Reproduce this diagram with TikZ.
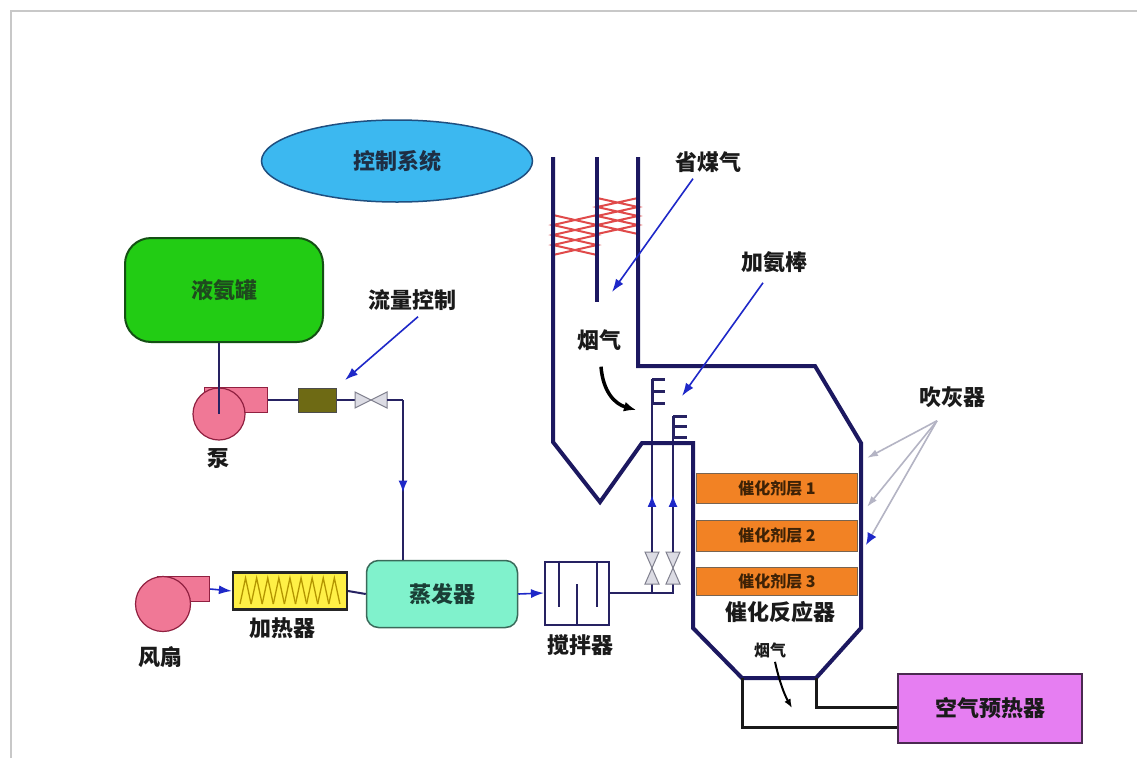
\documentclass[tikz,border=0pt]{standalone}
\usepackage{fontspec}
\newfontfamily\cjk{Noto Sans CJK SC}
\usetikzlibrary{shapes.geometric,arrows.meta,decorations.markings,calc}

\definecolor{ductc}{HTML}{1C1860}
\definecolor{pipec}{HTML}{262262}
\definecolor{arrowc}{HTML}{1E28C8}
\definecolor{ellfill}{HTML}{3CB8F0}
\definecolor{ellline}{HTML}{1F4F80}
\definecolor{elltext}{HTML}{1E2E44}
\definecolor{tankfill}{HTML}{22CC14}
\definecolor{tankline}{HTML}{145014}
\definecolor{tanktext}{HTML}{1E4A1E}
\definecolor{pumpfill}{HTML}{F07896}
\definecolor{pumpline}{HTML}{902040}
\definecolor{boxolive}{HTML}{6E6A14}
\definecolor{heatfill}{HTML}{FFF046}
\definecolor{heatzig}{HTML}{B49600}
\definecolor{evapfill}{HTML}{80F2CC}
\definecolor{evapline}{HTML}{3A6A5A}
\definecolor{evaptext}{HTML}{1A3E36}
\definecolor{catfill}{HTML}{F28224}
\definecolor{cattext}{HTML}{3E2206}
\definecolor{aphfill}{HTML}{E67EF2}
\definecolor{aphline}{HTML}{4A2A50}
\definecolor{coilc}{HTML}{E04A4A}
\definecolor{framec}{HTML}{C8C8C8}
\definecolor{sootc}{HTML}{B4B4C4}
\definecolor{valvefill}{HTML}{DCDCE4}
\definecolor{valveline}{HTML}{80808E}
\definecolor{labeltext}{HTML}{1A1A1A}

\tikzset{
  lbl/.style={font=\cjk\bfseries\fontsize{22}{24}\selectfont, text=labeltext, inner sep=0},
  lblsmall/.style={font=\cjk\bfseries\fontsize{16}{18}\selectfont, text=labeltext, inner sep=0},
  duct/.style={draw=ductc, line width=4, line join=miter},
  outlet/.style={draw=black!90, line width=3, line join=miter},
  pipe/.style={draw=pipec, line width=2},
  bluearr/.style={draw=arrowc, line width=1.6, -{Latex[length=13pt,width=9pt]}},
  sootarr/.style={draw=sootc, line width=1.6, -{Latex[length=11pt,width=7pt]}},
  flowarr/.style={draw=black, line width=3.5, -{Latex[length=12pt,width=10pt]}},
  midarrow/.style={postaction=decorate, decoration={markings,
      mark=at position #1 with {\arrow[arrowc]{Latex[length=12pt,width=9pt]}}}},
  valve/.style={fill=valvefill, draw=valveline, line width=1},
  pumpbody/.style={draw=pumpline, fill=pumpfill, line width=1.2, inner sep=0},
}

\begin{document}
\begin{tikzpicture}[x=1pt,y=-1pt]
\useasboundingbox (0,0) rectangle (1137,758);
\fill[white] (0,0) rectangle (1137,758);
\draw[framec, line width=1.5] (11,758) -- (11,11) -- (1137,11);

% ---------- control system ----------
\node[ellipse, draw=ellline, fill=ellfill, line width=1.5, minimum width=271,
      minimum height=82, lbl, text=elltext] (ctrl) at (397,161) {控制系统};

% ---------- ammonia tank, pump, flow control ----------
\node[draw=tankline, fill=tankfill, rounded corners=26, line width=2,
      minimum width=198, minimum height=104, lbl, text=tanktext] (tank) at (224,290) {液氨罐};

\node[pumpbody, minimum width=63, minimum height=25, anchor=west] (pumpout) at (204,400) {};
\node[pumpbody, circle, minimum size=52] (pump) at (219,414) {};
\node[lbl] (pumplbl) at (218,459) {泵};
\draw[pipe] (tank.south -| pump.center) -- (pump.center);

\node[fill=boxolive, draw=black!70, line width=1, minimum width=38, minimum height=24,
      inner sep=0] (flow) at (317,400) {};
\coordinate (valve1) at (371,400);
\coordinate (bend1) at (403,400);
\draw[pipe] (pumpout.east) -- (flow.west);
\draw[pipe] (flow.east) -- ($(valve1)+(-16,0)$);
\filldraw[valve] ($(valve1)+(-16,-8)$) -- ($(valve1)+(-16,8)$) -- (valve1) -- cycle;
\filldraw[valve] ($(valve1)+(16,-8)$) -- ($(valve1)+(16,8)$) -- (valve1) -- cycle;
\draw[pipe] ($(valve1)+(16,0)$) -- (bend1);

\node[lbl] (flowlbl) at (412,300) {流量控制};
\coordinate (flowtip) at (345,380);
\draw[bluearr] (flowlbl.south) ++(6,6) -- (flowtip);

% ---------- fan, heater, evaporator, mixer ----------
\node[pumpbody, minimum width=52, minimum height=25, anchor=west] (fanout) at (157,589) {};
\node[pumpbody, circle, minimum size=55] (fan) at (163,604) {};
\node[lbl] (fanlbl) at (160,657) {风扇};

\node[draw=black!85, fill=heatfill, line width=2.2, minimum width=114, minimum height=37,
      inner sep=0] (heater) at (290,591) {};
\foreach \i in {0,...,8}
  \draw[heatzig, line width=1.3] ({240+11.1*\i},604) -- ({245.55+11.1*\i},578) -- ({251.1+11.1*\i},604);
\node[lbl] (heatlbl) at (282,628) {加热器};

\node[draw=evapline, fill=evapfill, rounded corners=12, line width=1.5, minimum width=151,
      minimum height=67, lbl, text=evaptext] (evap) at (442,594) {蒸发器};

\node[draw=pipec, line width=2, minimum width=64, minimum height=63, inner sep=0] (mixer) at (577,593) {};
\draw[pipec, line width=2]
  ($(mixer.north)+(-18,0)$) -- ++(0,46)
  ($(mixer.north)+(20,0)$) -- ++(0,46)
  (mixer.south) -- ++(0,-42);
\node[lbl] (mixlbl) at (580,645) {搅拌器};

\draw[bluearr] (fanout.east) -- (heater.west);
\draw[pipe] (heater.east) -- (evap.west);
\draw[pipe, midarrow=0.58] (bend1) -- (bend1 |- evap.north);
\draw[bluearr] (evap.east) -- (mixer.west);

% ---------- ammonia supply to the injection grid ----------
\coordinate (j1) at (652,593);
\coordinate (j2) at (673,593);
\coordinate (v1) at (652,568);
\coordinate (v2) at (673,568);
\coordinate (e1) at (652,379);
\coordinate (e2) at (673,416);
\draw[pipe] (mixer.east) -- (j2) -- ($(v2)+(0,16)$);
\draw[pipe] (j1) -- ($(v1)+(0,16)$);
\foreach \v in {v1,v2} {
  \filldraw[valve] ($(\v)+(-7,-16)$) -- ($(\v)+(7,-16)$) -- (\v) -- cycle;
  \filldraw[valve] ($(\v)+(-7,16)$) -- ($(\v)+(7,16)$) -- (\v) -- cycle;
}
\draw[pipe, midarrow=0.33] ($(v1)+(0,-16)$) -- (e1);
\draw[pipe, midarrow=0.42] ($(v2)+(0,-16)$) -- (e2);
\draw[pipec, line width=3]
  (e1) -- ++(13,0)  ($(e1)+(0,12)$) -- ++(13,0)  ($(e1)+(0,24)$) -- ++(13,0)
  (e2) -- ++(14,0)  ($(e2)+(0,10)$) -- ++(14,0)  ($(e2)+(0,21)$) -- ++(14,0);
\draw[pipec, line width=3] (e1) -- ($(e1)+(0,24)$) (e2) -- ($(e2)+(0,21)$);

% ---------- economizer coils ----------
\draw[coilc, line width=2]
  (553,215) -- (597,225) -- (553,235) -- (597,245) -- (553,255)
  (597,215) -- (553,225) -- (597,235) -- (553,245) -- (597,255);
\draw[coilc, line width=2]
  (597,198) -- (638,207) -- (597,216) -- (638,225) -- (597,234)
  (638,198) -- (597,207) -- (638,216) -- (597,225) -- (638,234);

% ---------- flue duct and reactor ----------
\coordinate (hopL) at (742,678);
\coordinate (hopR) at (816,678);
\draw[duct] (553,157) -- (553,442) -- (600,502) -- (642,443) -- (693,443) -- (693,628)
  -- (hopL) -- (hopR) -- (861,628) -- (861,443) -- (815,366) -- (638,366) -- (638,157);
\draw[duct] (597,157) -- (597,302);

% catalyst layers
\node[fill=catfill, draw=cattext!70, line width=1, minimum width=161, minimum height=30,
      inner sep=0, lblsmall, text=cattext] (cat1) at (777,488) {催化剂层 1};
\node[fill=catfill, draw=cattext!70, line width=1, minimum width=161, minimum height=31,
      inner sep=0, lblsmall, text=cattext] (cat2) at (777,535.5) {催化剂层 2};
\node[fill=catfill, draw=cattext!70, line width=1, minimum width=161, minimum height=28,
      inner sep=0, lblsmall, text=cattext] (cat3) at (777,581) {催化剂层 3};
\node[lbl] (reactlbl) at (780,612) {催化反应器};

% ---------- outlet to air preheater ----------
\node[draw=aphline, fill=aphfill, line width=2, minimum width=184, minimum height=69,
      lbl] (aph) at (990,708.5) {空气预热器};
\coordinate (outL) at (742,727);
\coordinate (outR) at (816,707);
\draw[outlet] (hopL) -- (outL) -- (outL -| aph.west);
\draw[outlet] (hopR) -- (outR) -- (outR -| aph.west);

% ---------- labels and pointers ----------
\node[lbl] (ecolbl) at (708,162) {省煤气};
\coordinate (ecotip) at (612,292);
\draw[bluearr] (ecolbl.south) ++(-15,6) -- (ecotip);

\node[lbl] (nh3lbl) at (774,262) {加氨棒};
\coordinate (nh3tip) at (682,396);
\draw[bluearr] (nh3lbl.south) ++(-11,10) -- (nh3tip);

\node[lbl] (flue1) at (599,340) {烟气};
\coordinate (flue1tip) at (636,410);
\draw[flowarr] (flue1.south) ++(2,16) .. controls (603,392) and (615,404) .. (flue1tip);

\node[lblsmall] (flue2) at (770,650) {烟气};
\coordinate (flue2tip) at (792,708);
\draw[draw=black, line width=2, -{Latex[length=9pt,width=7pt]}]
  (flue2.south) ++(5,4) .. controls (779,680) and (784,694) .. (flue2tip);

\node[lbl] (soot) at (952,397) {吹灰器};
\coordinate (sootA) at (867,458);
\coordinate (sootB) at (867,507);
\coordinate (sootC) at (866,545);
\draw[sootarr] (soot.south) ++(-15,13) -- (sootA);
\draw[sootarr] (soot.south) ++(-15,13) -- (sootB);
\draw[draw=sootc, line width=1.6, -{Latex[length=12pt,width=10pt,color=arrowc]}]
  (soot.south) ++(-15,13) -- (sootC);
\end{tikzpicture}
\end{document}
